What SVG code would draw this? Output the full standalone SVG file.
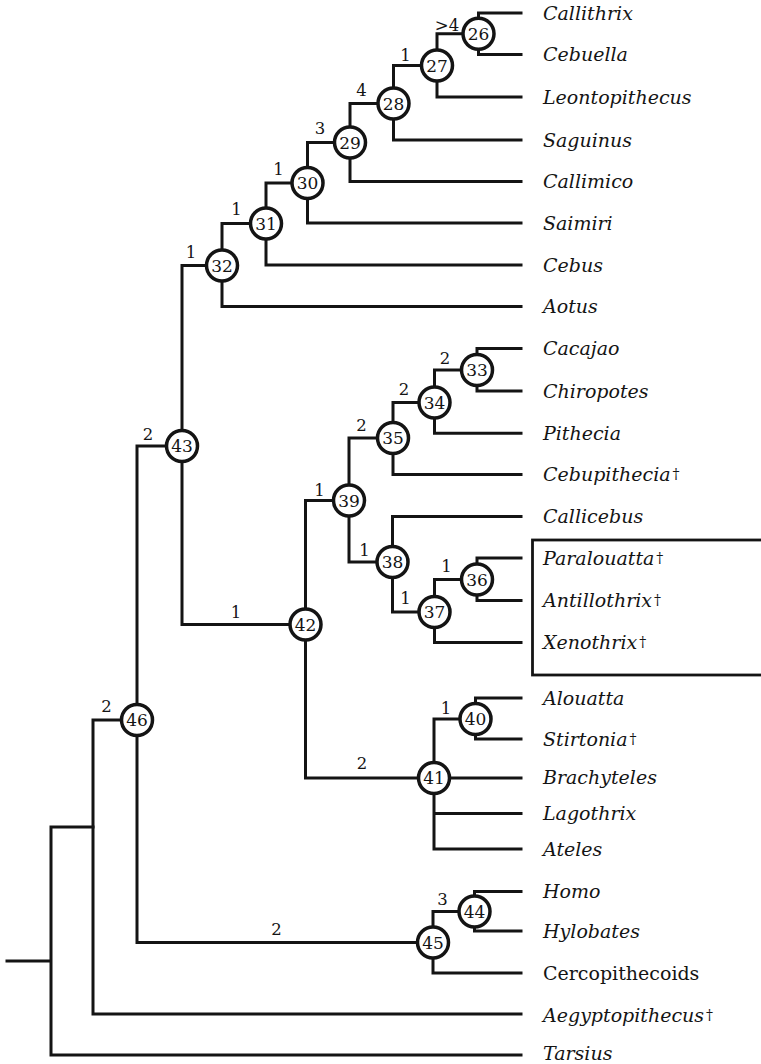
<svg xmlns="http://www.w3.org/2000/svg" width="761" height="1064" viewBox="0 0 761 1064">
  <style>
    .edge { fill: none; stroke: #141414; stroke-width: 3; stroke-linecap: square; stroke-linejoin: miter; }
    .box { fill: none; stroke: #141414; stroke-width: 2.8; }
    .node circle { fill: #fff; stroke: #141414; stroke-width: 3.5; }
    .num { font-family: "DejaVu Serif", "Liberation Serif", serif; font-size: 17px; fill: #141414; text-anchor: middle; }
    .blen { font-family: "DejaVu Serif", "Liberation Serif", serif; font-size: 16.5px; fill: #141414; text-anchor: middle; }
    .taxon { font-family: "DejaVu Serif", "Liberation Serif", serif; font-size: 19px; font-style: italic; fill: #141414; }
    .taxon.up { font-style: normal; }
    .dag { font-style: normal; font-size: 14px; }
  </style>
  <rect width="761" height="1064" fill="#fff"/>

  <!-- branches of the tree -->
  <g id="connectors">
    <path class="edge" d="M7,961 H51 M51,961 V827 H93 M51,961 V1055 H521"/>
    <path class="edge" d="M93,827 V720 H137 M93,827 V1014 H521"/>
    <path class="edge" d="M137,720 V446 H182 M137,720 V942.5 H433"/>
    <path class="edge" d="M182,446 V265.5 H222 M182,446 V624.5 H305.5"/>
    <path class="edge" d="M222,265.5 V223.5 H266 M222,265.5 V306.5 H521"/>
    <path class="edge" d="M266,223.5 V183 H307.5 M266,223.5 V265 H521"/>
    <path class="edge" d="M307.5,183 V142.5 H350 M307.5,183 V223 H521"/>
    <path class="edge" d="M350,142.5 V103.5 H393.5 M350,142.5 V181.5 H521"/>
    <path class="edge" d="M393.5,103.5 V65.5 H437 M393.5,103.5 V140 H521"/>
    <path class="edge" d="M437,65.5 V33.75 H478.5 M437,65.5 V97 H521"/>
    <path class="edge" d="M478.5,33.75 V13 H521 M478.5,33.75 V54.5 H521"/>
    <path class="edge" d="M305.5,624.5 V500.5 H349 M305.5,624.5 V778 H434"/>
    <path class="edge" d="M349,500.5 V438 H393 M349,500.5 V562 H392.5"/>
    <path class="edge" d="M393,438 V402.5 H434.5 M393,438 V474.5 H521"/>
    <path class="edge" d="M434.5,402.5 V370 H477 M434.5,402.5 V433.3 H521"/>
    <path class="edge" d="M477,370 V348.5 H521 M477,370 V391 H521"/>
    <path class="edge" d="M392.5,562 V516.5 H521 M392.5,562 V612 H434.5"/>
    <path class="edge" d="M434.5,612 V579.5 H477 M434.5,612 V642.5 H521"/>
    <path class="edge" d="M477,579.5 V558 H521 M477,579.5 V600.5 H521"/>
    <path class="edge" d="M434,778 V719 H475.5 M434,778 H521 M434,778 V849 H521 M434,813.5 H521"/>
    <path class="edge" d="M475.5,719 V698 H521 M475.5,719 V739 H521"/>
    <path class="edge" d="M433,942.5 V911.5 H474.5 M433,942.5 V973 H521"/>
    <path class="edge" d="M474.5,911.5 V891.5 H521 M474.5,911.5 V931 H521"/>
  </g>

  <!-- frame round the Caribbean taxa -->
  <rect class="box" x="532.5" y="540" width="250" height="135"/>

  <!-- internal nodes with their branch support -->
  <g id="n26" class="node"><circle cx="478.5" cy="33.75" r="15.5"/><text class="num" x="478.5" y="39.8">26</text><text class="blen" x="447" y="30.5">&gt;4</text></g>
  <g id="n27" class="node"><circle cx="437" cy="65.5" r="15.5"/><text class="num" x="437" y="71.5">27</text><text class="blen" x="405.5" y="60.5">1</text></g>
  <g id="n28" class="node"><circle cx="393.5" cy="103.5" r="15.5"/><text class="num" x="393.5" y="109.5">28</text><text class="blen" x="361.5" y="95.5">4</text></g>
  <g id="n29" class="node"><circle cx="350" cy="142.5" r="15.5"/><text class="num" x="350" y="148.5">29</text><text class="blen" x="320" y="134">3</text></g>
  <g id="n30" class="node"><circle cx="307.5" cy="183" r="15.5"/><text class="num" x="307.5" y="189">30</text><text class="blen" x="278.5" y="175">1</text></g>
  <g id="n31" class="node"><circle cx="266" cy="223.5" r="15.5"/><text class="num" x="266" y="229.5">31</text><text class="blen" x="236.5" y="215">1</text></g>
  <g id="n32" class="node"><circle cx="222" cy="265.5" r="15.5"/><text class="num" x="222" y="271.5">32</text><text class="blen" x="191" y="258">1</text></g>
  <g id="n33" class="node"><circle cx="477" cy="370" r="15.5"/><text class="num" x="477" y="376">33</text><text class="blen" x="445" y="364">2</text></g>
  <g id="n34" class="node"><circle cx="434.5" cy="402.5" r="15.5"/><text class="num" x="434.5" y="408.5">34</text><text class="blen" x="404" y="395">2</text></g>
  <g id="n35" class="node"><circle cx="393" cy="438" r="15.5"/><text class="num" x="393" y="444">35</text><text class="blen" x="361.5" y="431">2</text></g>
  <g id="n36" class="node"><circle cx="477" cy="579.5" r="15.5"/><text class="num" x="477" y="585.5">36</text><text class="blen" x="446.5" y="571.5">1</text></g>
  <g id="n37" class="node"><circle cx="434.5" cy="612" r="15.5"/><text class="num" x="434.5" y="618">37</text><text class="blen" x="405.5" y="603.5">1</text></g>
  <g id="n38" class="node"><circle cx="392.5" cy="562" r="15.5"/><text class="num" x="392.5" y="568">38</text><text class="blen" x="364.5" y="555.5">1</text></g>
  <g id="n39" class="node"><circle cx="349" cy="500.5" r="15.5"/><text class="num" x="349" y="506.5">39</text><text class="blen" x="319.5" y="495.5">1</text></g>
  <g id="n40" class="node"><circle cx="475.5" cy="719" r="15.5"/><text class="num" x="475.5" y="725">40</text><text class="blen" x="446" y="714">1</text></g>
  <g id="n41" class="node"><circle cx="434" cy="778" r="15.5"/><text class="num" x="434" y="784">41</text><text class="blen" x="362" y="769">2</text></g>
  <g id="n42" class="node"><circle cx="305.5" cy="624.5" r="15.5"/><text class="num" x="305.5" y="630.5">42</text><text class="blen" x="236" y="617.5">1</text></g>
  <g id="n43" class="node"><circle cx="182" cy="446" r="15.5"/><text class="num" x="182" y="452">43</text><text class="blen" x="148" y="439.5">2</text></g>
  <g id="n44" class="node"><circle cx="474.5" cy="911.5" r="15.5"/><text class="num" x="474.5" y="917.5">44</text><text class="blen" x="442.5" y="904.5">3</text></g>
  <g id="n45" class="node"><circle cx="433" cy="942.5" r="15.5"/><text class="num" x="433" y="948.5">45</text><text class="blen" x="276.5" y="934.5">2</text></g>
  <g id="n46" class="node"><circle cx="137" cy="720" r="15.5"/><text class="num" x="137" y="726">46</text><text class="blen" x="106.5" y="712">2</text></g>

  <!-- terminal taxa -->
  <g id="leaves">
    <text id="t-callithrix" class="taxon" x="543" y="19.5">Callithrix</text>
    <text id="t-cebuella" class="taxon" x="543" y="61">Cebuella</text>
    <text id="t-leontopithecus" class="taxon" x="543" y="103.5">Leontopithecus</text>
    <text id="t-saguinus" class="taxon" x="543" y="146.5">Saguinus</text>
    <text id="t-callimico" class="taxon" x="543" y="188">Callimico</text>
    <text id="t-saimiri" class="taxon" x="543" y="229.5">Saimiri</text>
    <text id="t-cebus" class="taxon" x="543" y="271.5">Cebus</text>
    <text id="t-aotus" class="taxon" x="543" y="313">Aotus</text>
    <text id="t-cacajao" class="taxon" x="543" y="355">Cacajao</text>
    <text id="t-chiropotes" class="taxon" x="543" y="397.5">Chiropotes</text>
    <text id="t-pithecia" class="taxon" x="543" y="440">Pithecia</text>
    <text id="t-cebupithecia" class="taxon" x="543" y="481">Cebupithecia<tspan class="dag" dx="2" dy="-2">†</tspan></text>
    <text id="t-callicebus" class="taxon" x="543" y="523">Callicebus</text>
    <text id="t-paralouatta" class="taxon" x="543" y="564.5">Paralouatta<tspan class="dag" dx="2" dy="-2">†</tspan></text>
    <text id="t-antillothrix" class="taxon" x="543" y="607">Antillothrix<tspan class="dag" dx="2" dy="-2">†</tspan></text>
    <text id="t-xenothrix" class="taxon" x="543" y="649">Xenothrix<tspan class="dag" dx="2" dy="-2">†</tspan></text>
    <text id="t-alouatta" class="taxon" x="543" y="704.5">Alouatta</text>
    <text id="t-stirtonia" class="taxon" x="543" y="745.5">Stirtonia<tspan class="dag" dx="2" dy="-2">†</tspan></text>
    <text id="t-brachyteles" class="taxon" x="543" y="784">Brachyteles</text>
    <text id="t-lagothrix" class="taxon" x="543" y="820">Lagothrix</text>
    <text id="t-ateles" class="taxon" x="543" y="855.5">Ateles</text>
    <text id="t-homo" class="taxon" x="543" y="898">Homo</text>
    <text id="t-hylobates" class="taxon" x="543" y="937.5">Hylobates</text>
    <text id="t-cercopithecoids" class="taxon up" x="543" y="979.5">Cercopithecoids</text>
    <text id="t-aegyptopithecus" class="taxon" x="543" y="1021.5">Aegyptopithecus<tspan class="dag" dx="2" dy="-2">†</tspan></text>
    <text id="t-tarsius" class="taxon" x="543" y="1059.5">Tarsius</text>
  </g>
</svg>
